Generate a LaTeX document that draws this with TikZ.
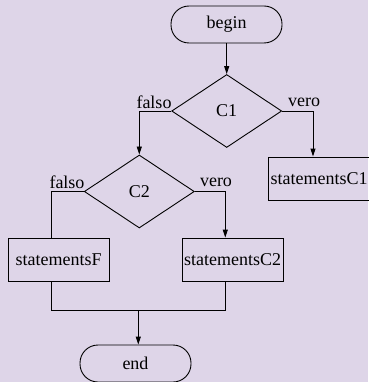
\documentclass[tikz,border=0pt]{standalone}
\usepackage{fontspec}
\setmainfont{Liberation Serif}
\usetikzlibrary{shapes.geometric,arrows.meta}
\definecolor{bgc}{RGB}{222,213,232}
\tikzset{
  every picture/.style={line width=0.9pt},
  term/.style={draw, rounded corners=18pt, minimum width=111pt, minimum height=37pt, inner sep=0pt},
  cond/.style={draw, diamond, minimum width=110pt, minimum height=73pt, inner sep=0pt},
  stmt/.style={draw, rectangle, minimum width=101pt, minimum height=43pt, inner sep=0.5pt},
  lbl/.style={inner sep=0pt},
  arr/.style={-{Triangle[length=8pt,width=5pt]}},
}
\begin{document}
\begin{tikzpicture}[x=1pt,y=-1pt,font=\fontsize{18}{21}\selectfont]
\useasboundingbox[fill=bgc] (0,0) rectangle (368,382);
\node[term] (begin) at (226.5,24.5) {begin};
\node[cond] (c1) at (226.7,111) {C1};
\node[cond] (c2) at (139.3,191.5) {C2};
\node[stmt] (s1) at (319,178.5) {statementsC1};
\node[stmt] (sf) at (58.7,259.5) {statementsF};
\node[stmt] (s2) at (232.5,259.5) {statementsC2};
\node[term] (end) at (135.5,363.5) {end};
\node[lbl] (f1) at (154,102) {falso};
\node[lbl] (v1) at (304,102) {vero};
\node[lbl] (f2) at (67,182.5) {falso};
\node[lbl] (v2) at (216,182.5) {vero};
\coordinate (r1) at (313,111);
\coordinate (l2) at (51.7,191.5);
\coordinate (r2) at (225.3,191.5);
\coordinate (mf) at (51.7,310);
\coordinate (m2) at (225.3,310);
\coordinate (mm) at (138.3,310);
\draw[arr] (begin.south -| c1.north) -- (c1.north);
\draw[arr] (c1.west) -| (c2.north);
\draw[arr] (c1.east) -- (r1) -- (r1 |- s1.north);
\draw (c2.west) -- (l2) -- (l2 |- sf.north);
\draw[arr] (c2.east) -- (r2) -- (r2 |- s2.north);
\draw (mf |- sf.south) -- (mf) -- (m2) -- (m2 |- s2.south);
\draw[arr] (mm) -- (mm |- end.north);
\end{tikzpicture}
\end{document}
